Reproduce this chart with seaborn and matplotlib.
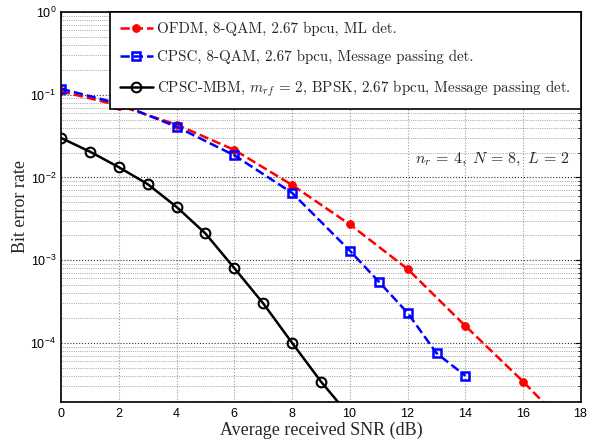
import numpy as np
import pandas as pd
import matplotlib
matplotlib.use('Agg')
import matplotlib.pyplot as plt
import seaborn as sns
from matplotlib.ticker import FixedLocator, FuncFormatter, LogLocator, NullFormatter

# ── data ────────────────────────────────────────────────────────────────────
snr_ofdm = [0, 2, 4, 6, 8, 10, 12, 14, 16, 18]
ber_ofdm = [0.110, 0.074, 0.0435, 0.0215, 0.0081, 0.0027, 7.8e-4, 1.6e-4, 3.4e-5, 6.5e-6]

snr_cpsc = [0, 2, 4, 6, 8, 10, 11, 12, 13, 14]
ber_cpsc = [0.118, 0.078, 0.041, 0.0185, 0.0065, 0.0013, 5.5e-4, 2.3e-4, 7.5e-5, 4.0e-5]

snr_mbm = [0, 1, 2, 3, 4, 5, 6, 7, 8, 9, 10]
ber_mbm = [0.030, 0.0205, 0.0133, 0.0083, 0.0044, 0.0021, 8.0e-4, 3.0e-4, 1.0e-4, 3.4e-5, 1.3e-5]

labels = ['OFDM, 8-QAM, 2.67 bpcu, ML det.',
          'CPSC, 8-QAM, 2.67 bpcu, Message passing det.',
          r'CPSC-MBM, $m_{rf}\,=\,2$, BPSK, 2.67 bpcu, Message passing det.']

sns.set_style('white')
plt.rcParams['mathtext.fontset'] = 'custom'
plt.rcParams['mathtext.rm'] = 'cmr10'
plt.rcParams['mathtext.it'] = 'cmmi10'
plt.rcParams['mathtext.sf'] = 'Liberation Sans'
plt.rcParams['axes.formatter.use_mathtext'] = True

fig = plt.figure(figsize=(6.01, 4.43), dpi=100)
ax = fig.add_axes([0.1015, 0.0926, 0.8652, 0.8804])
ax.set_yscale('log')

sns.lineplot(x=snr_ofdm, y=ber_ofdm, ax=ax, color='red', linestyle='--', lw=1.8,
             marker='o', markersize=5.5, markeredgecolor='red', label=labels[0], sort=False)
sns.lineplot(x=snr_cpsc, y=ber_cpsc, ax=ax, color='blue', linestyle='--', lw=1.8,
             marker='s', markersize=5.5, markerfacecolor='none', markeredgecolor='blue',
             markeredgewidth=1.8, label=labels[1], sort=False)
sns.lineplot(x=snr_mbm, y=ber_mbm, ax=ax, color='black', linestyle='-', lw=1.8,
             marker='o', markersize=7, markerfacecolor='none', markeredgecolor='black',
             markeredgewidth=1.5, label=labels[2], sort=False)

ax.set_xlim(0, 18)
ax.set_ylim(1.93e-5, 1)

ax.xaxis.set_major_locator(FixedLocator(np.arange(0, 19, 2)))
ax.xaxis.set_major_formatter(FuncFormatter(lambda v, p: r'$\mathsf{%d}$' % v))
ax.yaxis.set_major_locator(LogLocator(base=10, numticks=10))
ax.yaxis.set_minor_locator(LogLocator(base=10, subs=np.arange(2, 10), numticks=20))
ax.yaxis.set_minor_formatter(NullFormatter())
ax.yaxis.set_major_formatter(FuncFormatter(
    lambda v, p: r'$\mathsf{10^{%d}}$' % int(round(np.log10(v)))))

ax.tick_params(axis='both', which='both', direction='in', top=True, right=True,
               labelsize=9, colors='black')
ax.tick_params(axis='both', which='major', length=4, width=0.8)
ax.tick_params(axis='y', which='minor', length=2, width=0.6)

ax.grid(True, which='major', axis='x', linestyle=':', color='#999999', lw=0.8)
ax.grid(True, which='major', axis='y', linestyle=':', color='#333333', lw=0.8)
ax.grid(True, which='minor', axis='y', linestyle=':', color='#666666', lw=0.5)

for s in ax.spines.values():
    s.set_color('black')
    s.set_linewidth(1.2)

ax.set_xlabel('Average received SNR (dB)', family='Liberation Serif', fontsize=13, labelpad=1)
ax.set_ylabel('Bit error rate', family='Liberation Serif', fontsize=13, labelpad=1)

ax.text(12.25, 0.0163, r'$n_r\,=\,4,\;N\,=\,8,\;L\,=\,2$', fontsize=11.5, ha='left', va='center')

leg = ax.legend(loc='upper right', borderaxespad=0, fancybox=False, framealpha=1,
                edgecolor='black', handlelength=2.2, handletextpad=0.3,
                labelspacing=0.95, borderpad=0.65, prop={'family': 'cmr10', 'size': 10.8})
leg.get_frame().set_linewidth(1.2)

fig.savefig('out.png', dpi=100)
